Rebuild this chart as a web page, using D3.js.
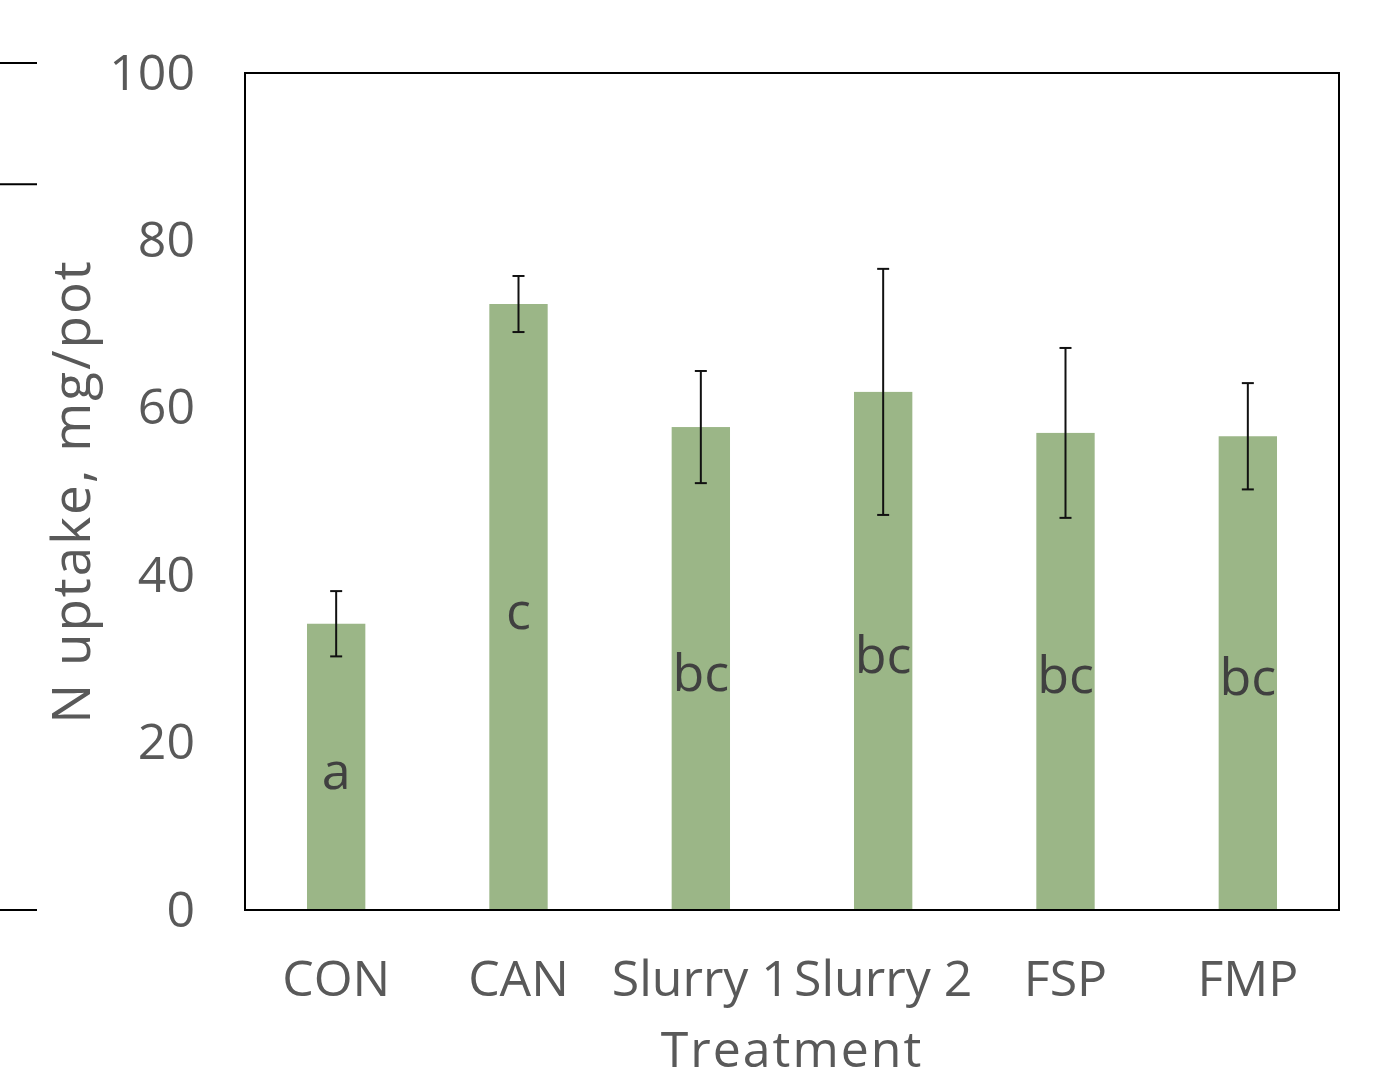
<!DOCTYPE html>
<html>
<head>
<meta charset="utf-8">
<script src="https://cdn.jsdelivr.net/npm/d3@7"></script>
<style>
  body { margin: 0; background: #fff; }
  svg { display: block; }
</style>
</head>
<body>
<svg></svg>
<script>
// chart data
var treatments = ["CON", "CAN", "Slurry 1", "Slurry 2", "FSP", "FMP"];
var uptake = [34.2, 72.4, 57.7, 61.9, 57.0, 56.6];
var errors = [3.9, 3.35, 6.7, 14.7, 10.15, 6.35];
var letters = ["a", "c", "bc", "bc", "bc", "bc"];
var yTicks = [0, 20, 40, 60, 80, 100];
// odd little dashes at the far left of the picture
var strayMarks = [101.2, 86.7, 0];

var svg = d3.select("svg")
            .attr("width", 1377)
            .attr("height", 1079);

var margins =
{
  left: 245,
  right: 38,
  top: 73,
  bottom: 169
}

var width = 1377 - margins.left - margins.right;
var height = 1079 - margins.top - margins.bottom;

var font = "'Open Sans', sans-serif";

var xScale = d3.scaleBand()
               .domain(treatments)
               .range([0, width])
               .paddingInner(0.68)
               .paddingOuter(0.34);

var yScale = d3.scaleLinear()
               .domain([0, 100])
               .range([height, 0]);

var plot = svg.append("g")
              .attr("transform", "translate(" + margins.left + "," + margins.top + ")");

// bars
plot.selectAll("rect.bar")
    .data(treatments)
    .enter()
    .append("rect")
    .attr("class", "bar")
    .attr("x", function(d) { return xScale(d); })
    .attr("y", function(d, i) { return yScale(uptake[i]); })
    .attr("width", xScale.bandwidth())
    .attr("height", function(d, i) { return height - yScale(uptake[i]); })
    .attr("fill", "#9bb687");

// error bars
var errG = plot.selectAll("g.err")
               .data(treatments)
               .enter()
               .append("g")
               .attr("class", "err")
               .attr("transform", function(d) {
                 return "translate(" + (xScale(d) + xScale.bandwidth() / 2) + ",0)"; });

errG.append("line")
    .attr("y1", function(d, i) { return yScale(uptake[i] + errors[i]); })
    .attr("y2", function(d, i) { return yScale(uptake[i] - errors[i]); })
    .attr("stroke", "#111")
    .attr("stroke-width", 2);

[1, -1].forEach(function(sign) {
  errG.append("line")
      .attr("x1", -6)
      .attr("x2", 6)
      .attr("y1", function(d, i) { return yScale(uptake[i] + sign * errors[i]); })
      .attr("y2", function(d, i) { return yScale(uptake[i] + sign * errors[i]); })
      .attr("stroke", "#111")
      .attr("stroke-width", 2);
});

// significance letters, middle of each bar
plot.selectAll("text.letter")
    .data(letters)
    .enter()
    .append("text")
    .attr("class", "letter")
    .attr("x", function(d, i) { return xScale(treatments[i]) + xScale.bandwidth() / 2; })
    .attr("y", function(d, i) { return yScale(uptake[i] / 2) + 22; })
    .attr("text-anchor", "middle")
    .attr("font-family", font)
    .attr("font-size", 52)
    .attr("fill", "#404040")
    .text(function(d) { return d; });

// plot frame
plot.append("rect")
    .attr("width", width)
    .attr("height", height)
    .attr("fill", "none")
    .attr("stroke", "#000")
    .attr("stroke-width", 2);

// y tick labels
var yAxis = d3.axisLeft(yScale)
              .tickValues(yTicks)
              .tickSize(0)
              .tickPadding(50);

var yG = plot.append("g").call(yAxis);
yG.select(".domain").remove();
yG.selectAll("text")
  .attr("font-family", font)
  .attr("font-size", 50)
  .attr("fill", "#595959");

// x tick labels
var xAxis = d3.axisBottom(xScale)
              .tickSize(0)
              .tickPadding(50);

var xG = plot.append("g")
             .attr("transform", "translate(0," + height + ")")
             .call(xAxis);
xG.select(".domain").remove();
xG.selectAll("text")
  .attr("font-family", font)
  .attr("font-size", 50)
  .attr("fill", "#595959");

// axis titles
svg.append("text")
   .attr("x", margins.left + width / 2)
   .attr("y", 1067)
   .attr("text-anchor", "middle")
   .attr("font-family", font)
   .attr("font-size", 50)
   .attr("letter-spacing", 2)
   .attr("fill", "#595959")
   .text("Treatment");

svg.append("text")
   .attr("transform", "translate(90," + (margins.top + height / 2) + ") rotate(-90)")
   .attr("text-anchor", "middle")
   .attr("font-family", font)
   .attr("font-size", 53)
   .attr("letter-spacing", 2)
   .attr("fill", "#595959")
   .text("N uptake, mg/pot");

// stray dashes at left edge
svg.selectAll("line.stray")
   .data(strayMarks)
   .enter()
   .append("line")
   .attr("class", "stray")
   .attr("x1", 0)
   .attr("x2", 37)
   .attr("y1", function(d) { return margins.top + yScale(d); })
   .attr("y2", function(d) { return margins.top + yScale(d); })
   .attr("stroke", "#000")
   .attr("stroke-width", 2);
</script>
</body>
</html>
